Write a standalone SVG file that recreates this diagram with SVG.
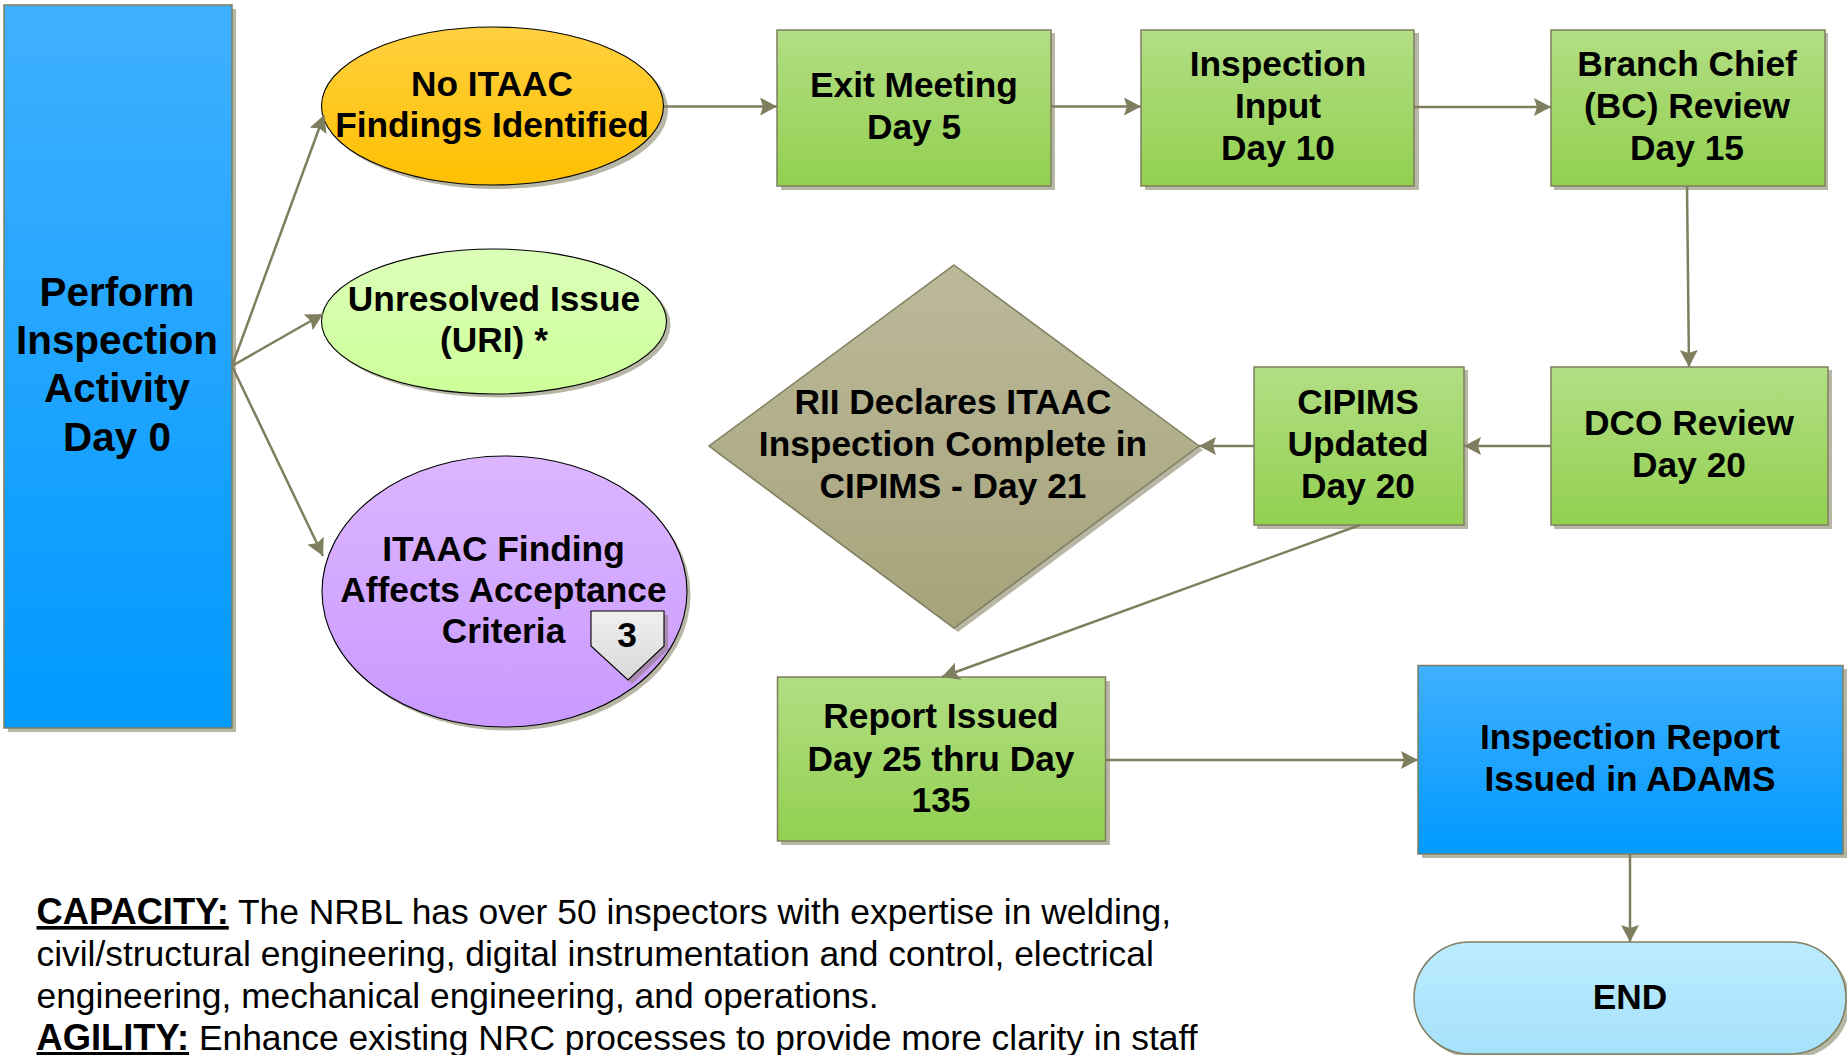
<svg xmlns="http://www.w3.org/2000/svg" width="1847" height="1055" viewBox="0 0 1847 1055">
<style>
text{font-family:"Liberation Sans",Arial,sans-serif;fill:#000}
.t{font-weight:700;font-size:35.300px;text-anchor:middle}
.p{font-size:40.400px}
.b{font-size:35.400px}
.bb{font-weight:700;font-size:36.300px;text-decoration:underline}
.sh{fill:#b8b6a4}
.k{stroke:#000;stroke-width:1.1}
.o{stroke:#7f7f5f;stroke-width:1.5}
.c{fill:none;stroke:#7f7f5f;stroke-width:2.5;marker-end:url(#a)}
</style>
<defs>
<marker id="a" markerUnits="userSpaceOnUse" markerWidth="18" markerHeight="18" refX="17" refY="9" orient="auto"><path d="M0,0L17,9L0,18L3,9Z" fill="#7f7f5f"/></marker>
<linearGradient id="blue" x1="0" y1="0" x2="0" y2="1"><stop offset="0" stop-color="#40b0ff"/><stop offset="1" stop-color="#0099ff"/></linearGradient>
<linearGradient id="green" x1="0" y1="0" x2="0" y2="1"><stop offset="0" stop-color="#b2de84"/><stop offset="1" stop-color="#92d050"/></linearGradient>
<linearGradient id="orange" x1="0" y1="0" x2="0" y2="1"><stop offset="0" stop-color="#ffd040"/><stop offset="1" stop-color="#ffc000"/></linearGradient>
<linearGradient id="lime" x1="0" y1="0" x2="0" y2="1"><stop offset="0" stop-color="#dcffb8"/><stop offset="1" stop-color="#ccff99"/></linearGradient>
<linearGradient id="purple" x1="0" y1="0" x2="0" y2="1"><stop offset="0" stop-color="#dcb6ff"/><stop offset="1" stop-color="#c999ff"/></linearGradient>
<linearGradient id="tan" x1="0" y1="0" x2="0" y2="1"><stop offset="0" stop-color="#bcb99a"/><stop offset="1" stop-color="#a6a37b"/></linearGradient>
<linearGradient id="pale" x1="0" y1="0" x2="0" y2="1"><stop offset="0" stop-color="#bcecff"/><stop offset="1" stop-color="#a6e1fb"/></linearGradient>
<linearGradient id="gray" x1="0" y1="0" x2="0" y2="1"><stop offset="0" stop-color="#f0f0f0"/><stop offset="1" stop-color="#d8d8d8"/></linearGradient>
</defs>
<rect width="1847" height="1055" fill="#fff"/>

<g id="n-perform"><rect class="sh" x="8" y="9" width="228" height="723"/><rect class="o" x="4" y="5" width="228" height="723" fill="url(#blue)"/>
<text class="t p" x="117" y="306">Perform</text><text class="t p" x="117" y="354">Inspection</text><text class="t p" x="117" y="402">Activity</text><text class="t p" x="117" y="451">Day 0</text></g>

<g id="n-noitaac"><ellipse class="sh" cx="497" cy="110" rx="171" ry="79"/><ellipse class="k" cx="492.5" cy="106" rx="171" ry="79" fill="url(#orange)"/>
<text class="t" x="492" y="95.500">No ITAAC</text><text class="t" x="492" y="137">Findings Identified</text></g>

<g id="n-uri"><ellipse class="sh" cx="498" cy="325" rx="172.500" ry="72.500"/><ellipse class="k" cx="494" cy="321.500" rx="172.500" ry="72.500" fill="url(#lime)"/>
<text class="t" x="494" y="311">Unresolved Issue</text><text class="t" x="494" y="352">(URI) *</text></g>

<g id="n-finding"><ellipse class="sh" cx="508" cy="595" rx="182.500" ry="135.500"/><ellipse class="k" cx="504.500" cy="591.500" rx="182.500" ry="135.500" fill="url(#purple)"/>
<text class="t" x="503.500" y="561">ITAAC Finding</text><text class="t" x="503.500" y="602">Affects Acceptance</text><text class="t" x="503.500" y="643">Criteria</text></g>

<g id="n-badge"><path d="M595,615H668V650L632,684L595,650Z" fill="#a98bb0"/><path class="k" d="M591,611H664V646L628,680L591,646Z" fill="url(#gray)"/>
<text class="t" x="627" y="647">3</text></g>

<g id="n-exit"><rect class="sh" x="781" y="33" width="274" height="157"/><rect class="o" x="777" y="30" width="274" height="156" fill="url(#green)"/>
<text class="t" x="914" y="97">Exit Meeting</text><text class="t" x="914" y="139">Day 5</text></g>

<g id="n-input"><rect class="sh" x="1145" y="33" width="274" height="157"/><rect class="o" x="1141" y="30" width="273" height="156" fill="url(#green)"/>
<text class="t" x="1278" y="76">Inspection</text><text class="t" x="1278" y="118">Input</text><text class="t" x="1278" y="160">Day 10</text></g>

<g id="n-bc"><rect class="sh" x="1554" y="33" width="274" height="157"/><rect class="o" x="1551" y="30" width="274" height="156" fill="url(#green)"/>
<text class="t" x="1687" y="76">Branch Chief</text><text class="t" x="1687" y="118">(BC) Review</text><text class="t" x="1687" y="160">Day 15</text></g>

<g id="n-dco"><rect class="sh" x="1554" y="370" width="278" height="159"/><rect class="o" x="1551" y="367" width="277" height="158" fill="url(#green)"/>
<text class="t" x="1689" y="435">DCO Review</text><text class="t" x="1689" y="477">Day 20</text></g>

<g id="n-cipims"><rect class="sh" x="1257" y="370" width="211" height="159"/><rect class="o" x="1254" y="367" width="210" height="158" fill="url(#green)"/>
<text class="t" x="1358" y="414">CIPIMS</text><text class="t" x="1358" y="456">Updated</text><text class="t" x="1358" y="498">Day 20</text></g>

<g id="n-rii"><path class="sh" d="M954,269L1203,450L958,632L713,450Z"/><path class="o" d="M954,265L1199,446L954,628L709,446Z" fill="url(#tan)"/>
<text class="t" x="953" y="414">RII Declares ITAAC</text><text class="t" x="953" y="456">Inspection Complete in</text><text class="t" x="953" y="498">CIPIMS - Day 21</text></g>

<g id="n-report"><rect class="sh" x="781" y="681" width="329" height="164"/><rect class="o" x="777.500" y="677" width="328" height="164" fill="url(#green)"/>
<text class="t" x="941" y="728">Report Issued</text><text class="t" x="941" y="770.500">Day 25 thru Day</text><text class="t" x="941" y="812">135</text></g>

<g id="n-adams"><rect class="sh" x="1422" y="669" width="425" height="189"/><rect class="o" x="1418" y="665.500" width="425" height="188.500" fill="url(#blue)"/>
<text class="t" x="1630" y="749">Inspection Report</text><text class="t" x="1630" y="791">Issued in ADAMS</text></g>

<g id="n-end"><rect class="sh" x="1418" y="946" width="432" height="112" rx="56"/><rect class="o" x="1414" y="942" width="432" height="112" rx="56" fill="url(#pale)"/>
<text class="t" x="1630" y="1009">END</text></g>

<g id="connectors">
<path class="c" d="M232,366L324,115"/>
<path class="c" d="M232,366L323,314"/>
<path class="c" d="M232,366L323,556"/>
<path class="c" d="M664,106.500H777"/>
<path class="c" d="M1051,106.500H1141"/>
<path class="c" d="M1414,107H1551"/>
<path class="c" d="M1687,186L1689,367"/>
<path class="c" d="M1551,446H1464"/>
<path class="c" d="M1254,446H1199"/>
<path class="c" d="M1360,525L942,677"/>
<path class="c" d="M1106,760H1418"/>
<path class="c" d="M1630,854V942"/>
</g>

<g id="notes">
<text class="b" x="36.500" y="924"><tspan class="bb">CAPACITY:</tspan> The NRBL has over 50 inspectors with expertise in welding,</text>
<text class="b" x="36.500" y="966">civil/structural engineering, digital instrumentation and control, electrical</text>
<text class="b" x="36.500" y="1008">engineering, mechanical engineering, and operations.</text>
<text class="b" x="36.500" y="1050"><tspan class="bb">AGILITY:</tspan> Enhance existing NRC processes to provide more clarity in staff</text>
</g>
</svg>
